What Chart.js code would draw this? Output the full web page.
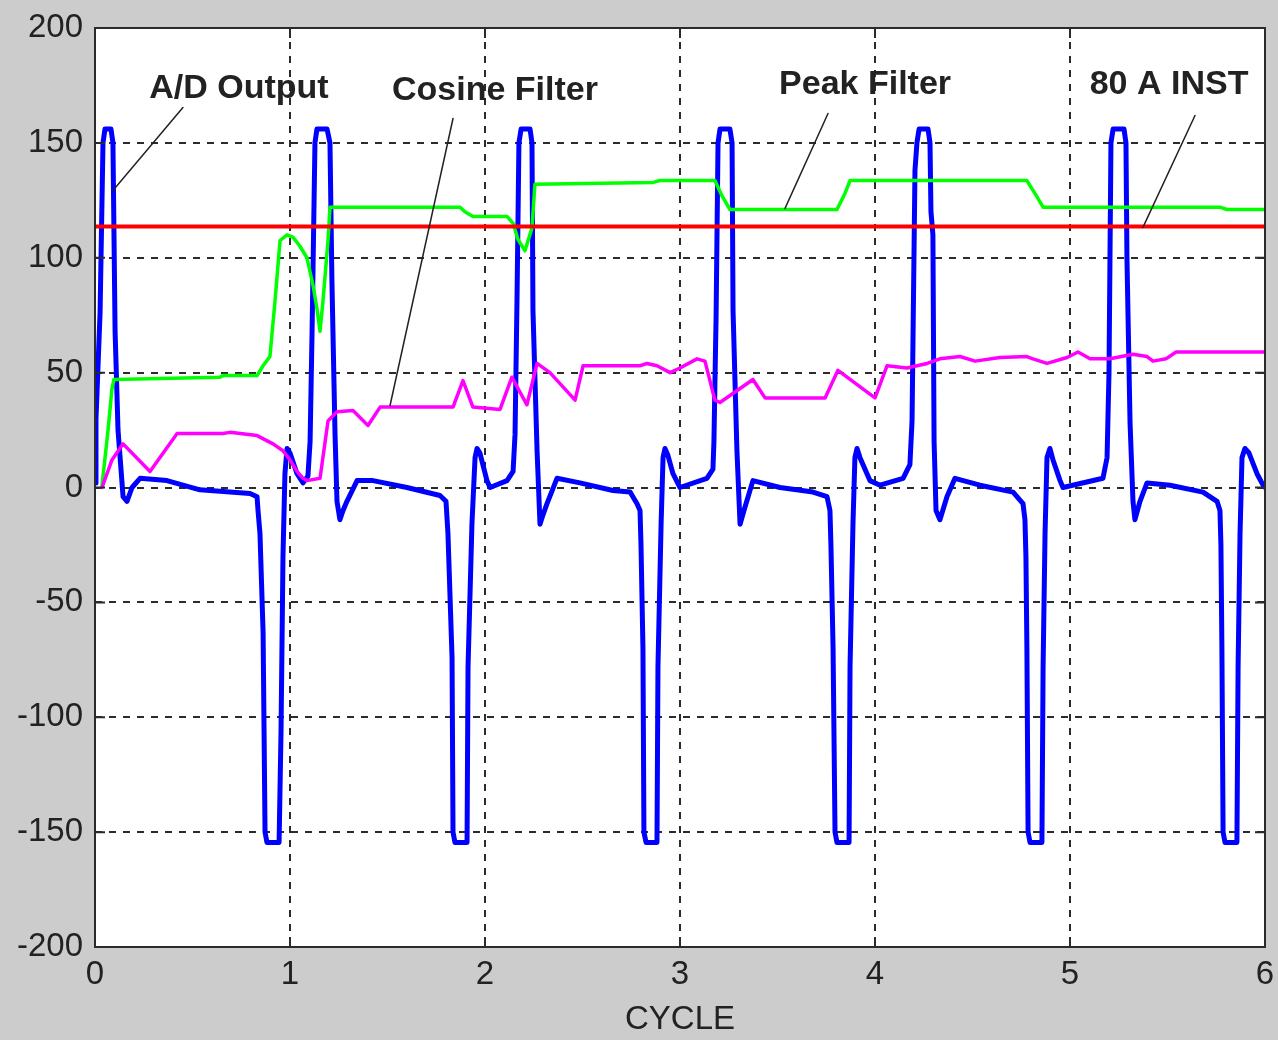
<!DOCTYPE html>
<html>
<head>
<meta charset="utf-8">
<script src="https://cdn.jsdelivr.net/npm/chart.js@4/dist/chart.umd.min.js"></script>
<style>
  body { margin: 0; background: #cccccc; }
  #wrap { width: 1278px; height: 1040px; }
</style>
</head>
<body>
<div id="wrap"><canvas id="chart1"></canvas></div>
<script>
// A/D output (blue), x in cycles
let adX = [0.000, 0.005, 0.026, 0.041, 0.051, 0.082, 0.092, 0.103, 0.118, 0.144, 0.164, 0.190, 0.231, 0.369, 0.538, 0.795, 0.831,
  0.836, 0.846, 0.862, 0.872, 0.882, 0.944, 0.954, 0.964, 0.974, 0.985, 1.000, 1.036, 1.067, 1.092,
  1.103, 1.113, 1.128, 1.138, 1.190, 1.205, 1.215, 1.231, 1.241, 1.256, 1.272, 1.292, 1.344, 1.426, 1.600, 1.769, 1.800,
  1.810, 1.831, 1.836, 1.846, 1.908, 1.913, 1.933, 1.949, 1.959, 1.974, 2.010, 2.026, 2.113, 2.144,
  2.154, 2.164, 2.174, 2.185, 2.231, 2.241, 2.246, 2.267, 2.282, 2.297, 2.318, 2.369, 2.487, 2.656, 2.744, 2.779, 2.795,
  2.800, 2.810, 2.815, 2.826, 2.882, 2.887, 2.903, 2.913, 2.923, 2.938, 2.964, 3.000, 3.138, 3.169,
  3.174, 3.185, 3.195, 3.205, 3.256, 3.267, 3.272, 3.292, 3.308, 3.328, 3.374, 3.513, 3.682, 3.754, 3.769,
  3.774, 3.785, 3.795, 3.805, 3.867, 3.872, 3.887, 3.897, 3.908, 3.923, 3.974, 4.026, 4.144, 4.179,
  4.190, 4.205, 4.215, 4.226, 4.272, 4.282, 4.287, 4.297, 4.303, 4.313, 4.333, 4.369, 4.410, 4.538, 4.708, 4.759, 4.769,
  4.774, 4.779, 4.785, 4.795, 4.856, 4.862, 4.872, 4.882, 4.897, 4.913, 4.949, 4.964, 5.169, 5.190,
  5.200, 5.210, 5.221, 5.277, 5.287, 5.292, 5.308, 5.323, 5.333, 5.359, 5.395, 5.513, 5.682, 5.754, 5.769,
  5.774, 5.779, 5.785, 5.795, 5.856, 5.862, 5.872, 5.882, 5.897, 5.918, 5.959, 5.990, 6.000];
let adY = [2, 30, 76, 150, 156, 156, 150, 68, 25, -4, -6, 0, 4, 3, -1, -2.6, -4,
  -10, -20, -63, -150, -154.5, -154.5, -106, -30, 6, 17, 15, 6, 2, 5,
  20, 67, 150, 156, 156, 150, 90, 23, -6, -14, -10, -6, 3, 3, 0, -3.5, -6,
  -20, -74, -150, -154.5, -154.5, -78, -16, 13, 17, 15, 3, 0, 3, 7,
  23, 81, 150, 156, 156, 150, 77, 16, -16, -12, -7, 4, 2, -1.3, -2, -7, -10,
  -25, -70, -150, -154.5, -154.5, -78, -16, 13, 17, 14, 6, 0, 4, 8,
  20, 74, 150, 156, 156, 150, 77, 16, -16, -10, 3, 0, -2, -4, -10,
  -25, -70, -150, -154.5, -154.5, -78, -16, 13, 17, 13, 3, 1, 4, 10,
  29, 138, 150, 156, 156, 150, 120, 110, 20, -10, -14, -4, 4, 1, -2, -7, -14,
  -30, -70, -150, -154.5, -154.5, -78, -20, 13, 17, 12, 3, 0, 4, 13,
  50, 150, 156, 156, 150, 100, 28, -6, -14, -6, 2, 1, -2, -6, -10,
  -25, -70, -150, -154.5, -154.5, -78, -20, 13, 17, 15, 6, 1, 0];

// Peak filter (green)
let peakX = [0.036, 0.067, 0.087, 0.097, 0.641, 0.656, 0.831, 0.862, 0.897, 0.923, 0.949, 0.985, 1.015, 1.051, 1.087,
  1.118, 1.138, 1.154, 1.169, 1.195, 1.205, 1.872, 1.897, 1.938, 2.113, 2.144, 2.169, 2.205, 2.241, 2.256,
  2.862, 2.897, 3.179, 3.215, 3.256, 3.805, 3.846, 3.872, 4.779, 4.820, 4.862, 5.769, 5.805, 6.000];
let peakY = [1, 25, 43, 47, 48, 48.7, 48.7, 53, 57, 81, 107.5, 110, 109, 105, 100,
  88, 78, 68, 81, 107.5, 122, 122, 120, 118, 118, 115, 108, 103, 113, 132,
  132.8, 133.6, 133.6, 127, 121, 121, 128, 133.6, 133.6, 128, 122, 122, 121, 121];

// Cosine filter (magenta)
let cosX = [0.036, 0.087, 0.144, 0.282, 0.421, 0.656, 0.692, 0.831, 0.913, 0.964, 1.000, 1.036, 1.067, 1.087, 1.154,
  1.195, 1.241, 1.323, 1.400, 1.462, 1.836, 1.887, 1.938, 2.077, 2.138, 2.215, 2.267, 2.333, 2.462, 2.503,
  2.795, 2.831, 2.882, 2.949, 3.000, 3.087, 3.128, 3.179, 3.205, 3.374, 3.436, 3.744, 3.810, 4.000, 4.062,
  4.164, 4.267, 4.333, 4.436, 4.513, 4.641, 4.779, 4.810, 4.882, 4.985, 5.041, 5.103, 5.205, 5.323, 5.395,
  5.426, 5.492, 5.544, 6.000];
let cosY = [0, 12, 19, 7, 23.5, 23.5, 24, 22.6, 19, 16, 12, 7, 4, 3, 4,
  29, 33, 33.5, 27, 35, 35, 46.5, 35, 34, 48, 36, 54, 50, 38, 53,
  53, 54, 53, 50, 52, 56, 55, 38, 37, 47, 39, 39, 51, 39, 53,
  52, 54, 56, 57, 55, 56.6, 57, 56, 54, 56.6, 59, 56, 56, 58, 57,
  55, 56, 59, 59];

// 80 A INST pickup (red)
let instX = [0, 6];
let instY = [113.6, 113.6];

// callouts
let labelText = ['A/D Output', 'Cosine Filter', 'Peak Filter', '80 A INST'];
let labelX = [0.738, 2.051, 3.949, 5.508];
let labelY = [173.7, 172.8, 175.4, 175.4];
let leaderX = [[0.451, 0.092], [1.836, 1.513], [3.759, 3.538], [5.641, 5.374]];
let leaderY = [[165.4, 129.3], [160.6, 35.7], [162.8, 121.4], [161.9, 113.2]];

function pts(xs, ys) {
  return xs.map((x, i) => ({x: x, y: ys[i]}));
}

let leaderSets = leaderX.map((xs, i) => ({
  data: pts(xs, leaderY[i]),
  borderColor: '#222',
  borderWidth: 1.5,
  pointRadius: 0,
  order: 0
}));

let frame = {
  id: 'frame',
  beforeDraw(chart) {
    let a = chart.chartArea;
    let ctx = chart.ctx;
    ctx.save();
    ctx.fillStyle = '#ffffff';
    ctx.fillRect(a.left, a.top, a.right - a.left, a.bottom - a.top);
    ctx.restore();
  },
  afterDraw(chart) {
    let a = chart.chartArea;
    let ctx = chart.ctx;
    let xs = chart.scales.x, ys = chart.scales.y;
    ctx.save();
    ctx.strokeStyle = '#2b2b2b';
    ctx.lineWidth = 2;
    ctx.strokeRect(a.left, a.top, a.right - a.left, a.bottom - a.top);
    ctx.beginPath();
    xs.ticks.forEach(t => {
      let px = xs.getPixelForValue(t.value);
      ctx.moveTo(px, a.bottom); ctx.lineTo(px, a.bottom - 10);
      ctx.moveTo(px, a.top); ctx.lineTo(px, a.top + 10);
    });
    ys.ticks.forEach(t => {
      let py = ys.getPixelForValue(t.value);
      ctx.moveTo(a.left, py); ctx.lineTo(a.left + 10, py);
      ctx.moveTo(a.right, py); ctx.lineTo(a.right - 10, py);
    });
    ctx.stroke();
    // callout text
    ctx.fillStyle = '#222';
    ctx.font = 'bold 34px "Liberation Sans", Arial, sans-serif';
    ctx.textAlign = 'center';
    ctx.textBaseline = 'middle';
    labelText.forEach((s, i) => {
      ctx.fillText(s, xs.getPixelForValue(labelX[i]), ys.getPixelForValue(labelY[i]));
    });
    ctx.restore();
  }
};

let tickFont = {family: '"Liberation Sans", Arial, sans-serif', size: 33};

let chart1 = new Chart(document.getElementById('chart1').getContext('2d'), {
  type: 'line',
  data: {
    datasets: [
      {data: pts(instX, instY), borderColor: '#ff0000', borderWidth: 4, pointRadius: 0, order: 1},
      {data: pts(cosX, cosY), borderColor: '#ff00ff', borderWidth: 3.5, pointRadius: 0, order: 2},
      {data: pts(peakX, peakY), borderColor: '#00ff00', borderWidth: 3.5, pointRadius: 0, order: 3},
      {data: pts(adX, adY), borderColor: '#0000ff', borderWidth: 5, pointRadius: 0, order: 4}
    ].concat(leaderSets)
  },
  options: {
    responsive: true,
    maintainAspectRatio: false,
    animation: false,
    elements: {line: {tension: 0, borderJoinStyle: 'round', borderCapStyle: 'round'}},
    layout: {padding: {top: 28, right: 13, left: 0, bottom: 0}},
    plugins: {legend: {display: false}, tooltip: {enabled: false}},
    scales: {
      x: {
        type: 'linear',
        min: 0,
        max: 6,
        afterFit: s => { s.height = 93; s.paddingLeft = 0; s.paddingRight = 0; },
        ticks: {stepSize: 1, color: '#222', font: tickFont, padding: 8, maxRotation: 0},
        grid: {color: '#2b2b2b', lineWidth: 2, drawTicks: false},
        border: {display: false, dash: [7, 7]},
        title: {display: true, text: 'CYCLE', color: '#222', font: tickFont, padding: {top: 0, bottom: 0}}
      },
      y: {
        type: 'linear',
        min: -200,
        max: 200,
        afterFit: s => { s.width = 95; s.paddingTop = 0; s.paddingBottom = 0; },
        ticks: {stepSize: 50, color: '#222', font: tickFont, padding: 12},
        grid: {color: '#2b2b2b', lineWidth: 2, drawTicks: false},
        border: {display: false, dash: [7, 7]}
      }
    }
  },
  plugins: [frame]
});
</script>
</body>
</html>
